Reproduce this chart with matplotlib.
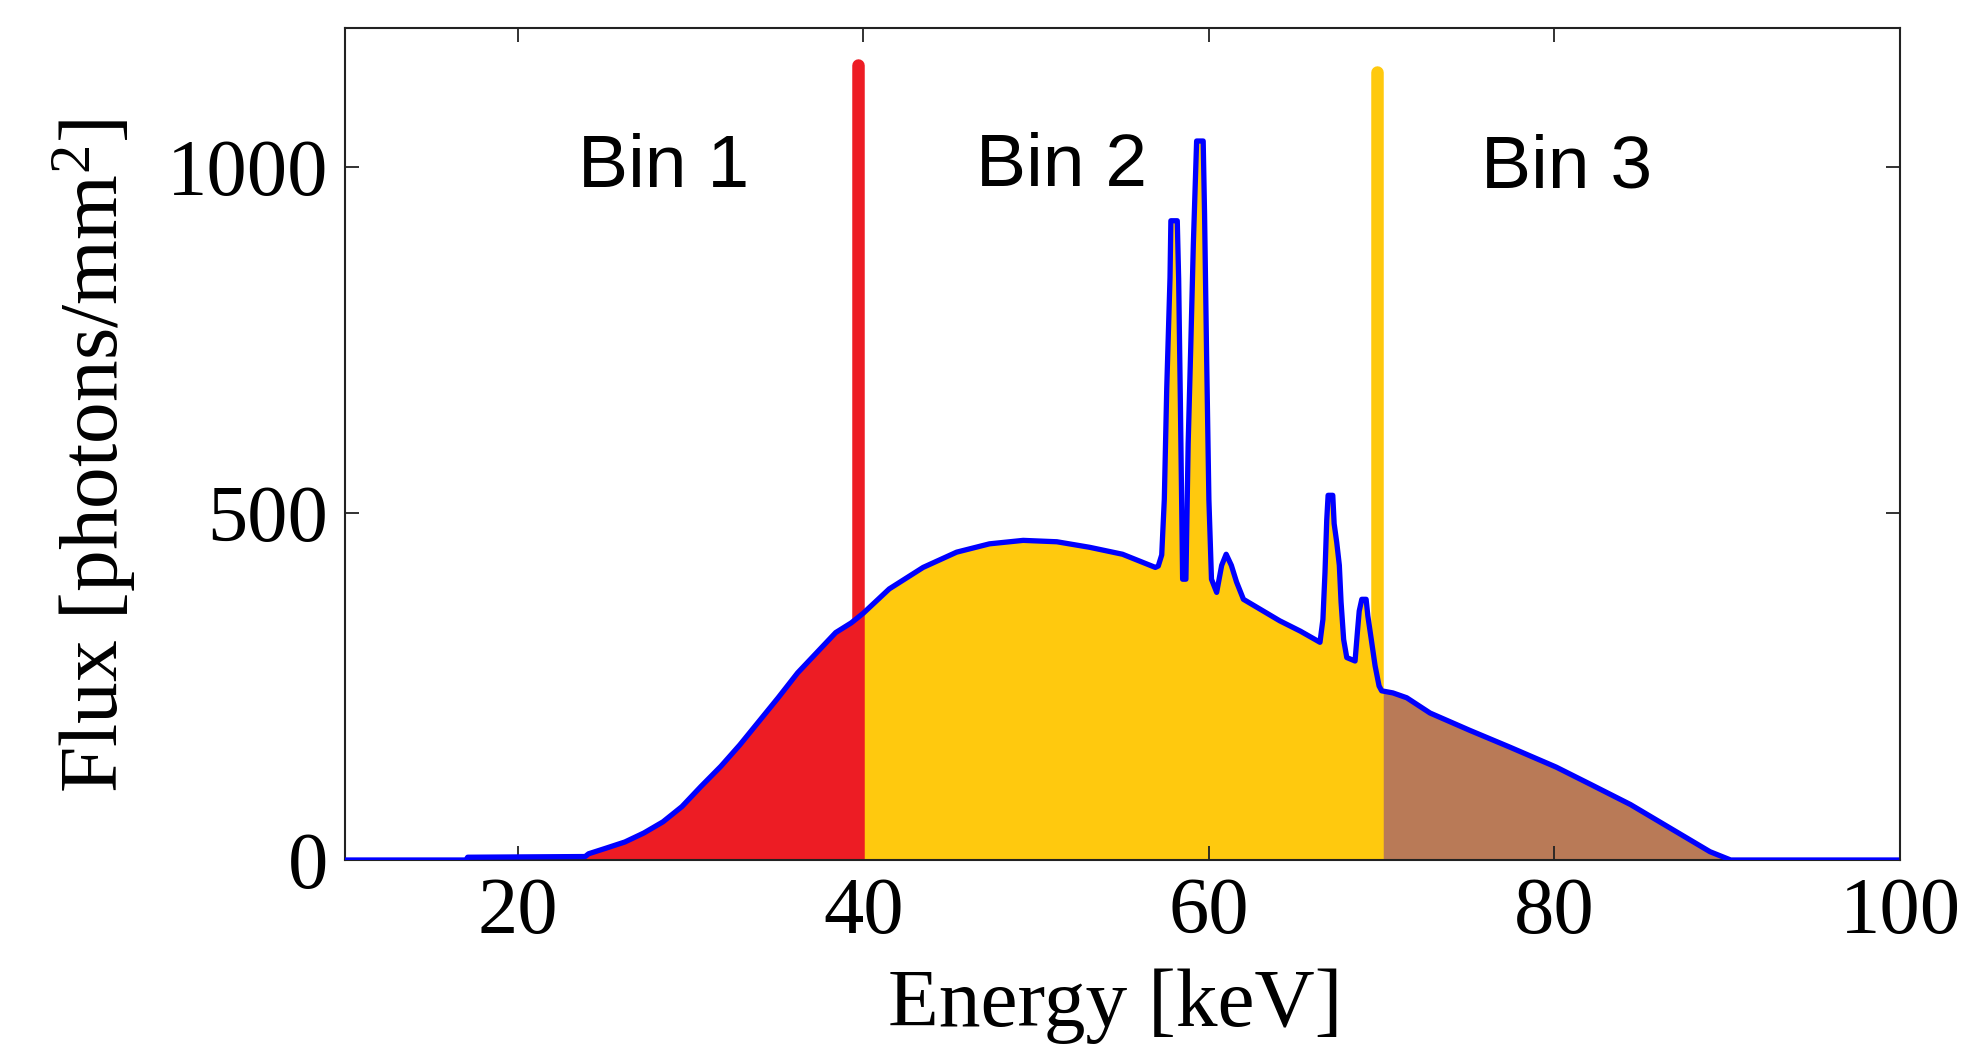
import numpy as np
import matplotlib
matplotlib.use("Agg")
import matplotlib.pyplot as plt

# ---- data ----
energy = [10, 17.0, 17.1, 23.9, 24.1, 25.1, 26.2, 27.3, 28.4, 29.5, 30.6, 31.75,
          32.85, 33.96, 35.07, 36.2, 37.3, 38.4, 39.3, 40.0, 41.5, 43.46, 45.4,
          47.3, 49.25, 51.2, 53.1, 55.0, 56.9, 57.07, 57.27, 57.42, 57.56, 57.75,
          57.8, 58.17, 58.25, 58.35, 58.48, 58.67, 58.8, 58.95, 59.1, 59.29, 59.67,
          59.75, 59.87, 60.0, 60.15, 60.45, 60.74, 61.0, 61.3, 61.6, 62.0, 64.1,
          65.3, 66.43, 66.6, 66.72, 66.82, 66.9, 67.17, 67.25, 67.4, 67.55, 67.65,
          67.8, 67.98, 68.46, 68.6, 68.7, 68.85, 69.1, 69.2, 69.4, 69.62, 69.85,
          70.0, 70.65, 71.45, 72.8, 75.1, 77.4, 80.1, 82.1, 84.4, 86.7, 89.0, 90.2,
          99.8]
flux = [0, 0, 4, 5, 9, 17, 26, 39, 55, 77, 106, 135,
        166, 200, 234, 270, 299, 328, 342, 356, 391, 422, 444,
        456, 461, 459, 451, 441, 422, 424, 440, 520, 680, 840,
        922, 922, 838, 660, 405, 405, 600, 740, 888, 1037, 1037,
        931, 724, 520, 405, 386, 425, 441, 425, 401, 376, 345,
        330, 314, 347, 415, 490, 526, 526, 485, 458, 425, 372,
        318, 292, 287, 330, 359, 376, 376, 352, 318, 280, 251,
        244, 241, 234, 212, 187, 163, 134, 109, 80, 46, 12, 0,
        0]
thresholds = [39.72, 69.75]
threshold_tops = [1147, 1137]
bin_labels = ["Bin 1", "Bin 2", "Bin 3"]
bin_label_x = [28.45, 51.45, 80.7]
bin_label_y = [970, 972, 970]
xticks = [20, 40, 60, 80, 100]
yticks = [0, 500, 1000]

E = np.array(energy)
F = np.array(flux)

RED = "#ED1C24"
YEL = "#FFC90E"
BRN = "#B97A57"

plt.rcParams["mathtext.fontset"] = "custom"
plt.rcParams["mathtext.rm"] = "Liberation Serif"
plt.rcParams["mathtext.it"] = "Liberation Serif"

fig = plt.figure(figsize=(19.73, 10.55), dpi=100)
ax = fig.add_axes([345/1973, 1-860/1055, (1900-345)/1973, (860-28)/1055])

ax.fill_between(E, 0, F, where=(E <= 40.0), color=RED, lw=0, zorder=1)
ax.fill_between(E, 0, F, where=(E >= 40.0) & (E <= 70.0), color=YEL, lw=0, zorder=1)
ax.fill_between(E, 0, F, where=(E >= 70.0), color=BRN, lw=0, zorder=1)

ax.plot([thresholds[0]]*2, [0, threshold_tops[0]], color=RED, lw=9,
        solid_capstyle="round", zorder=2)
ax.plot([thresholds[1]]*2, [0, threshold_tops[1]], color=YEL, lw=9,
        solid_capstyle="round", zorder=2)

ax.plot(E, F, color="#0000FF", lw=3.8, zorder=3)

for lab, x, y in zip(bin_labels, bin_label_x, bin_label_y):
    ax.text(x, y, lab, ha="center", va="baseline", fontsize=54,
            family="Liberation Sans", color="black", zorder=4)

ax.set_xlim(10, 100)
ax.set_ylim(0, 1200)
ax.set_xticks(xticks)
ax.set_yticks(yticks)
ax.tick_params(direction="in", length=10, width=1.3, top=True, right=True,
               labelsize=58, pad=12, color="#222222")
for lbl in ax.get_xticklabels() + ax.get_yticklabels():
    lbl.set_family("Liberation Serif")
for s in ax.spines.values():
    s.set_linewidth(1.5)
    s.set_color("#222222")

ax.set_xlabel("Energy [keV]", fontsize=60, family="Liberation Serif")
ax.xaxis.label.set_va("center")
ax.xaxis.set_label_coords(0.4955, (860-1006)/832)
ax.set_ylabel(r"Flux [photons/mm$^{\mathrm{2}}$]", fontsize=60, family="Liberation Serif")
ax.yaxis.label.set_va("center")
ax.yaxis.set_label_coords((94-345)/1555, (860-456)/832)

fig.savefig("out.png", dpi=100)
